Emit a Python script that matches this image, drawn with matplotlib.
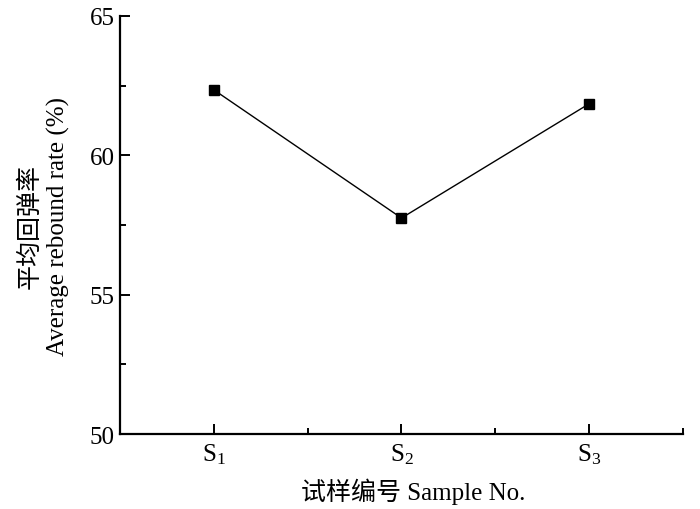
import matplotlib
matplotlib.use("Agg")
import matplotlib.pyplot as plt
from matplotlib.ticker import MultipleLocator

plt.rcParams['font.family'] = ['Liberation Serif', 'Noto Sans CJK SC']
plt.rcParams['mathtext.fontset'] = 'custom'
plt.rcParams['mathtext.rm'] = 'Liberation Serif'
plt.rcParams['mathtext.it'] = 'Liberation Serif:italic'

samples = [r'$\mathrm{S}_1$', r'$\mathrm{S}_2$', r'$\mathrm{S}_3$']
positions = [1, 2, 3]
rebound = [62.35, 57.75, 61.85]
yticks = [50, 55, 60, 65]

fig = plt.figure(figsize=(7.0, 5.1), dpi=100)
ax = fig.add_axes([0.1714, 0.147, 0.8043, 0.8197])

ax.plot(positions, rebound, color='black', lw=1.0, marker='s', markersize=6.5,
        markerfacecolor='black', markeredgecolor='black')

ax.set_xlim(0.5, 3.5)
ax.set_ylim(50, 65)
ax.set_xticks(positions)
ax.set_xticklabels(samples)
ax.xaxis.set_minor_locator(MultipleLocator(0.5))
ax.set_yticks(yticks)
ax.yaxis.set_minor_locator(MultipleLocator(2.5))

for s in ['top', 'right']:
    ax.spines[s].set_visible(False)
for s in ['left', 'bottom']:
    ax.spines[s].set_linewidth(1.6)

ax.tick_params(which='both', direction='in', width=1.4, labelsize=18, colors='black')
ax.tick_params(which='major', length=7, pad=4)
ax.tick_params(which='minor', length=4)
ax.tick_params(axis='x', pad=5)

ax.set_ylabel('平均回弹率\nAverage rebound rate (%)', fontsize=18, labelpad=14, linespacing=1.3)
ax.set_xlabel('试样编号 Sample No.', fontsize=18)
ax.xaxis.set_label_coords(0.52, -0.105)

fig.savefig('out.png', dpi=100)
